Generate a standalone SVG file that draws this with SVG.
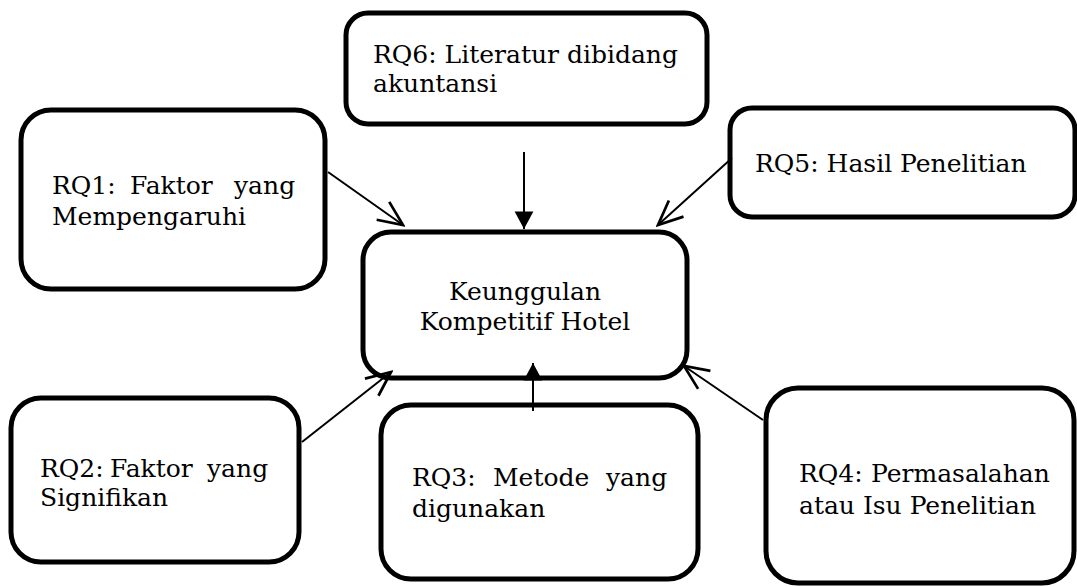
<svg xmlns="http://www.w3.org/2000/svg" width="1077" height="587" viewBox="0 0 1077 587">
<style>
.box{fill:#fff;stroke:#000;stroke-width:5}
.t{font-family:"DejaVu Serif","Liberation Serif",serif;font-size:25px;fill:#000}
.c{stroke:#000;stroke-width:2;fill:none}
</style>
<defs>
<marker id="open" markerUnits="userSpaceOnUse" markerWidth="30" markerHeight="30" viewBox="-20 -10 22 20" refX="0" refY="0" orient="auto">
<path d="M-18,-8 L0,0 L-18,8" fill="none" stroke="#000" stroke-width="2"/>
</marker>
<marker id="fill" markerUnits="userSpaceOnUse" markerWidth="20" markerHeight="20" viewBox="-15 -8 16 16" refX="0" refY="0" orient="auto">
<path d="M-14,-7.5 L0,0 L-14,7.5 Z" fill="#000"/>
</marker>
</defs>
<rect width="1077" height="587" fill="#fff"/>
<g id="rq6">
<rect class="box" x="346" y="13" width="361" height="111" rx="22"/>
<text class="t" x="373" y="63">RQ6: Literatur dibidang</text>
<text class="t" x="373" y="92">akuntansi</text>
</g>
<g id="rq1">
<rect class="box" x="21" y="110" width="304" height="179" rx="30"/>
<text class="t" y="194"><tspan x="52">RQ1:</tspan><tspan x="130">Faktor</tspan><tspan x="234">yang</tspan></text>
<text class="t" x="52" y="225">Mempengaruhi</text>
</g>
<g id="center">
<rect class="box" x="363" y="232" width="324" height="146" rx="28"/>
<text class="t" x="525" y="300" text-anchor="middle">Keunggulan</text>
<text class="t" x="525" y="330" text-anchor="middle">Kompetitif Hotel</text>
</g>
<g id="rq5">
<rect class="box" x="730" y="108" width="345" height="109" rx="22"/>
<text class="t" x="755" y="172">RQ5: Hasil Penelitian</text>
</g>
<g id="rq2">
<rect class="box" x="11" y="398" width="288" height="164" rx="30"/>
<text class="t" y="477"><tspan x="40">RQ2:</tspan><tspan x="110">Faktor</tspan><tspan x="207">yang</tspan></text>
<text class="t" x="40" y="506">Signifikan</text>
</g>
<g id="rq3">
<rect class="box" x="381" y="405" width="317" height="174" rx="30"/>
<text class="t" y="486"><tspan x="412">RQ3:</tspan><tspan x="493">Metode</tspan><tspan x="606">yang</tspan></text>
<text class="t" x="412" y="517">digunakan</text>
</g>
<g id="rq4">
<rect class="box" x="766" y="388" width="308" height="195" rx="32"/>
<text class="t" y="482"><tspan x="799">RQ4:</tspan><tspan x="871">Permasalahan</tspan></text>
<text class="t" x="799" y="514">atau Isu Penelitian</text>
</g>
<g id="connectors">
<line class="c" x1="328" y1="172" x2="403" y2="225" marker-end="url(#open)"/>
<line class="c" x1="524" y1="152" x2="524" y2="229" marker-end="url(#fill)"/>
<line class="c" x1="732" y1="158" x2="658" y2="225" marker-end="url(#open)"/>
<line class="c" x1="302" y1="442" x2="391" y2="372" marker-end="url(#open)"/>
<line class="c" x1="533" y1="411" x2="533" y2="363" marker-end="url(#fill)"/>
<line class="c" x1="763" y1="420" x2="684" y2="366" marker-end="url(#open)"/>
</g>
</svg>
